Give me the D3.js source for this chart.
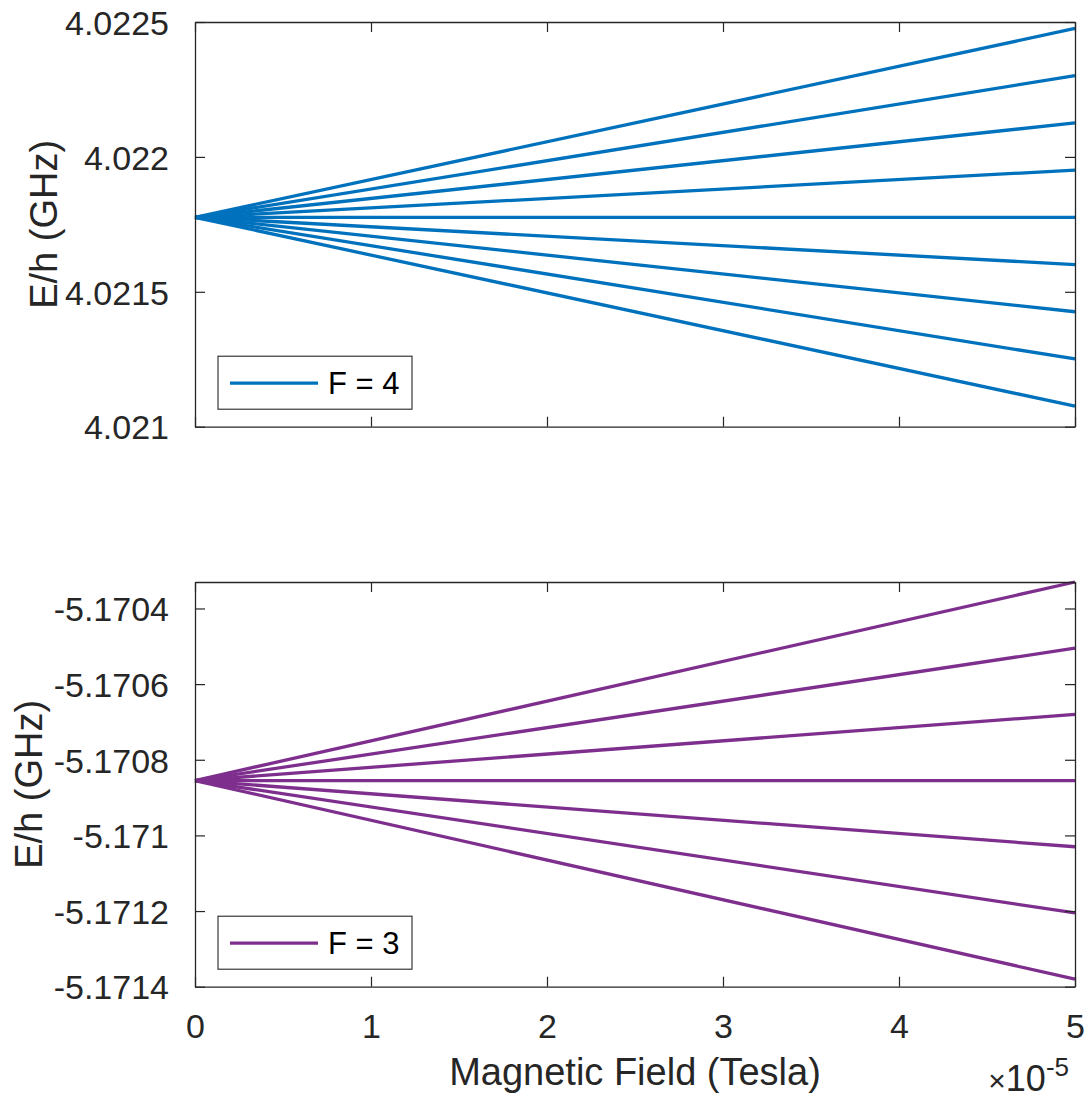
<!DOCTYPE html>
<html>
<head>
<meta charset="utf-8">
<script src="https://cdn.jsdelivr.net/npm/d3@7"></script>
<style>
  html, body { margin: 0; padding: 0; background: #fff; }
  svg { display: block; font-family: "Liberation Sans", Arial, Helvetica, sans-serif; }
</style>
</head>
<body>
<svg id="chart" width="1091" height="1099"></svg>
<script>
// Magnetic field sweep (Tesla): lines run from zero field to the end of the sweep
const fieldTesla = [0, 5e-5];
const xTicks = [0, 1e-5, 2e-5, 3e-5, 4e-5, 5e-5];
const xTickLabels = ["0", "1", "2", "3", "4", "5"];

// F = 4 manifold: zero-field energy and energy at the end of the sweep for mF = +4 ... -4 (GHz)
const f4Zero = 4.021776;
const f4End = [4.022476, 4.022301, 4.022126, 4.021951, 4.021776, 4.021601, 4.021426, 4.021251, 4.021076];
const f4Ticks = [4.021, 4.0215, 4.022, 4.0225];
const f4TickLabels = ["4.021", "4.0215", "4.022", "4.0225"];
const f4Range = [4.021, 4.0225];

// F = 3 manifold: zero-field energy and energy at the end of the sweep for mF = -3 ... +3 (GHz)
const f3Zero = -5.170855;
const f3End = [-5.170330, -5.170505, -5.170680, -5.170855, -5.171030, -5.171205, -5.171380];
const f3Ticks = [-5.1714, -5.1712, -5.171, -5.1708, -5.1706, -5.1704];
const f3TickLabels = ["-5.1714", "-5.1712", "-5.171", "-5.1708", "-5.1706", "-5.1704"];
const f3Range = [-5.1714, -5.17033];

const axisColor = "#262626";
const svg = d3.select("#chart");

const left = 195, right = 1075;
const x = d3.scaleLinear().domain([fieldTesla[0], fieldTesla[1]]).range([left, right]);

function panel(opts) {
  const { top, bottom, zero, ends, range, ticks, tickLabels, color, legendText, showXLabels, yLabelX } = opts;
  const y = d3.scaleLinear().domain(range).range([bottom, top]);
  const g = svg.append("g");

  // energy levels
  const line = d3.line().x(d => x(d[0])).y(d => y(d[1]));
  ends.forEach(v => {
    g.append("path")
      .attr("d", line([[fieldTesla[0], zero], [fieldTesla[1], v]]))
      .attr("fill", "none")
      .attr("stroke", color)
      .attr("stroke-width", 3.3);
  });

  // axes with inward ticks on all four sides (boxed)
  const tickLen = 10;
  const yTickFmt = d => tickLabels[ticks.indexOf(d)];
  const xTickFmt = d => showXLabels ? xTickLabels[xTicks.indexOf(d)] : "";

  const axL = g.append("g").attr("transform", `translate(${left},0)`)
    .call(d3.axisLeft(y).tickValues(ticks).tickFormat(yTickFmt).tickSizeInner(-tickLen).tickSizeOuter(0).tickPadding(tickLen + 16));
  const axR = g.append("g").attr("transform", `translate(${right},0)`)
    .call(d3.axisRight(y).tickValues(ticks).tickFormat("").tickSizeInner(-tickLen).tickSizeOuter(0));
  const axB = g.append("g").attr("transform", `translate(0,${bottom})`)
    .call(d3.axisBottom(x).tickValues(xTicks).tickFormat(xTickFmt).tickSizeInner(-tickLen).tickSizeOuter(0).tickPadding(tickLen + 17));
  const axT = g.append("g").attr("transform", `translate(0,${top})`)
    .call(d3.axisTop(x).tickValues(xTicks).tickFormat("").tickSizeInner(-tickLen).tickSizeOuter(0));

  [axL, axR, axB, axT].forEach(a => {
    a.select(".domain").attr("stroke", axisColor).attr("stroke-width", 1.3);
    a.selectAll(".tick line").attr("stroke", axisColor).attr("stroke-width", 1.2);
    a.selectAll(".tick text").attr("fill", axisColor).attr("font-size", 34).attr("font-family", null);
  });
  axL.selectAll(".tick text").attr("dy", "0.36em");
  axB.selectAll(".tick text").attr("dy", "0.72em");

  // y label
  g.append("text")
    .attr("transform", `translate(${yLabelX},${(top + bottom) / 2}) rotate(-90)`)
    .attr("text-anchor", "middle")
    .attr("font-size", 38)
    .attr("fill", axisColor)
    .text("E/h (GHz)");

  // legend
  const lx = 218, ly = bottom - 17.5 - 53;
  g.append("rect").attr("x", lx).attr("y", ly).attr("width", 194).attr("height", 53)
    .attr("fill", "#fff").attr("stroke", axisColor).attr("stroke-width", 1.1);
  g.append("line").attr("x1", lx + 12).attr("x2", lx + 100).attr("y1", ly + 27).attr("y2", ly + 27)
    .attr("stroke", color).attr("stroke-width", 3.3);
  g.append("text").attr("x", lx + 110).attr("y", ly + 27).attr("dy", "0.36em")
    .attr("font-size", 31).attr("fill", "#000").text(legendText);
}

panel({ top: 22, bottom: 426.7, zero: f4Zero, ends: f4End, range: f4Range, ticks: f4Ticks,
        tickLabels: f4TickLabels, color: "#0072BD", legendText: "F = 4", showXLabels: false, yLabelX: 57 });
panel({ top: 582, bottom: 986.7, zero: f3Zero, ends: f3End, range: f3Range, ticks: f3Ticks,
        tickLabels: f3TickLabels, color: "#7E2F8E", legendText: "F = 3", showXLabels: true, yLabelX: 42 });

// x label and exponent
svg.append("text").attr("x", (left + right) / 2).attr("y", 1085)
  .attr("text-anchor", "middle").attr("font-size", 38).attr("fill", axisColor)
  .text("Magnetic Field (Tesla)");
const expo = svg.append("text").attr("x", 1069).attr("y", 1091)
  .attr("text-anchor", "end").attr("fill", axisColor);
expo.append("tspan").attr("font-size", 30).text("\u00d7");
expo.append("tspan").attr("font-size", 36).text("10");
expo.append("tspan").attr("dy", -15).attr("font-size", 26).text("-5");
</script>
</body>
</html>
